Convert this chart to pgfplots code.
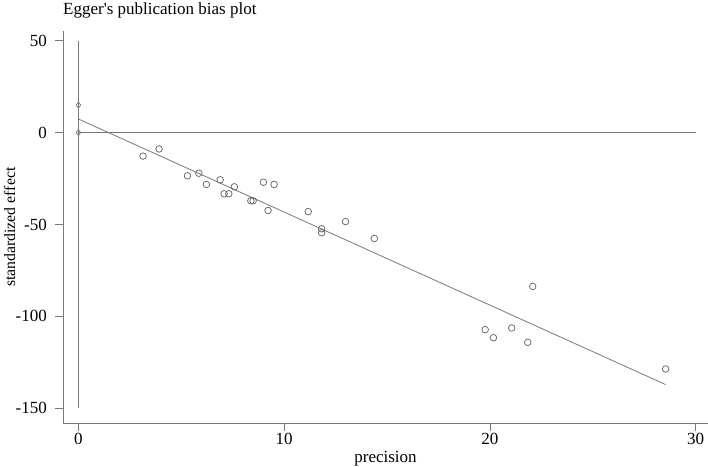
\documentclass[border=0pt]{standalone}
\usepackage{pgfplots}
\pgfplotsset{compat=1.18}
\usepackage{fontspec}
\setmainfont{Liberation Serif}[Ligatures=TeXOff]
\definecolor{lg}{RGB}{120,120,120}
\begin{document}
\begin{tikzpicture}
\useasboundingbox (-63bp,-44bp) rectangle (645bp,423bp);
\begin{axis}[
  scale only axis,
  width=645bp, height=391.5bp,
  xmin=-0.75, xmax=30.6, ymin=-158, ymax=55,
  axis x line*=bottom, axis y line*=left,
  axis line style={lg, line width=0.8bp, -},
  xtick={0,10,20,30}, ytick={-150,-100,-50,0,50},
  tick align=outside, major tick length=8bp,
  tick style={lg, line width=0.8bp},
  minor tick num=0,
  /pgf/number format/assume math mode=true,
  ticklabel style={font=\fontsize{17bp}{20bp}\selectfont, inner sep=0pt},
  yticklabel style={anchor=east, xshift=-8bp},
  xticklabel style={anchor=base, yshift=-13bp},
  title={Egger's publication bias plot},
  title style={at={(axis description cs:0,1)}, anchor=base west, inner sep=0pt, yshift=11bp, font=\fontsize{17bp}{20bp}\selectfont},
  xlabel={precision},
  xlabel style={at={(axis description cs:0.5,-0.1)}, anchor=base, inner sep=0pt, font=\fontsize{17bp}{20bp}\selectfont},
  ylabel={standardized effect},
  ylabel style={at={(axis description cs:-0.0744,0.5)}, anchor=base, inner sep=0pt, font=\fontsize{15.8bp}{19bp}\selectfont},
  clip=false,
]
\addplot[lg, line width=0.8bp, no markers] coordinates {(0,0) (30,0)};
\addplot[lg, line width=0.8bp, no markers] coordinates {(0,50) (0,-150)};
\addplot[lg, line width=0.8bp, no markers] coordinates {(0,7.4) (28.54,-137.1)};
\addplot[only marks, mark=diamond, mark size=3bp, lg, mark options={line width=0.7bp, fill=white!70!lg}] coordinates {(0,15) (0,0)};
\addplot[only marks, mark=o, mark size=3.3bp, color=black!60, mark options={line width=0.75bp}] coordinates {
(3.14,-12.8) (3.92,-8.9) (5.30,-23.5) (5.85,-22.1) (6.22,-28.2) (6.89,-25.7)
(7.08,-33.3) (7.31,-33.3) (7.58,-29.5) (8.38,-37.1) (8.49,-37.1) (8.99,-27.0)
(9.22,-42.4) (9.51,-28.2) (11.17,-43.0) (11.82,-52.3) (11.82,-54.5) (12.98,-48.4)
(14.38,-57.6) (19.77,-107.2) (20.17,-111.6) (21.06,-106.3) (21.84,-114.1)
(22.08,-83.7) (28.54,-128.6)};
\end{axis}
\end{tikzpicture}
\end{document}
